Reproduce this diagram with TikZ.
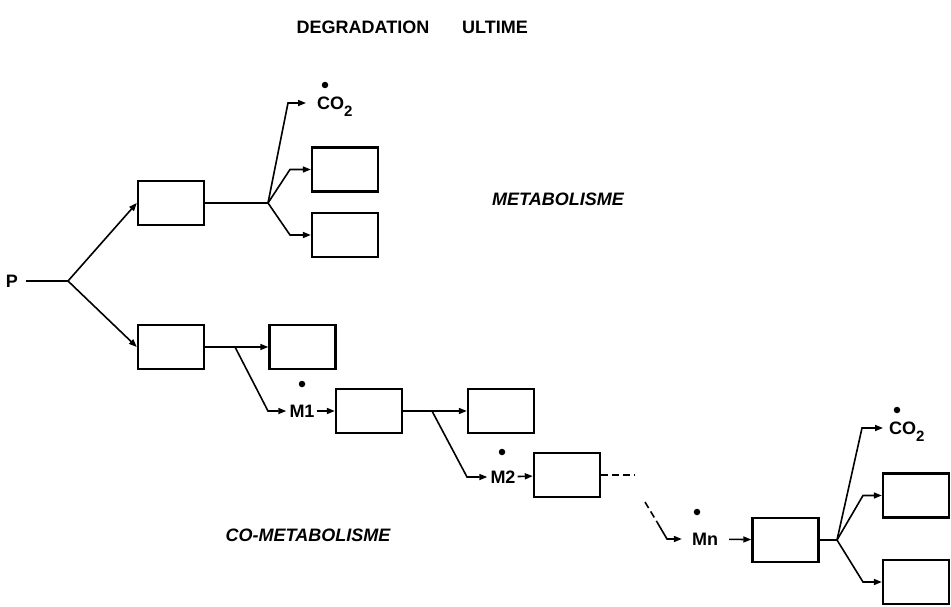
\documentclass[tikz,border=0pt]{standalone}
\usepackage{fontspec}
\setmainfont{Liberation Sans}
\usetikzlibrary{arrows.meta, positioning, calc}

\newcommand{\subtwo}{\smash{\raisebox{-7pt}{\fontsize{15}{15}\selectfont 2}}}

\begin{document}
\begin{tikzpicture}[
    x=1pt, y=-1pt,
    font=\fontsize{18}{20}\selectfont\bfseries,
    cell/.style={draw, line width=2.4pt, minimum width=66pt, minimum height=44pt, inner sep=0pt},
    lbl/.style={inner sep=0pt},
    slant/.style={inner sep=0pt, font=\fontsize{18}{20}\selectfont\bfseries\itshape},
    dot/.style={fill, circle, inner sep=0pt, minimum size=6.5pt},
    ln/.style={line width=1.6pt},
    arr/.style={line width=1.6pt, -{Triangle[length=8pt, width=6pt]}},
    dsh/.style={line width=1.6pt, dash pattern=on 7pt off 4pt}
]
\useasboundingbox (0,0) rectangle (951,607);

\node[lbl] (tdeg) at (363,27) {DEGRADATION};
\node[lbl, anchor=west] (tult) at (462,27) {ULTIME};
\node[slant] (tmet) at (558,199) {METABOLISME};
\node[slant] (tcomet) at (308,535) {CO-METABOLISME};

\node[lbl] (pp) at (12,281) {P};
\coordinate (jp) at (68,281);

% metabolisme
\node[cell] (a1) at (171,203) {};
\coordinate (ja1) at (268,203);
\coordinate (ka1) at (288,103);
\node[lbl, anchor=west] (co2a) at (317,103) {CO\subtwo};
\node[dot] at (325,85) {};
\node[cell] (b1) at (345,169.5) {};
\node[cell] (b2) at (345,235) {};
\coordinate (kb1) at (290,169.5);
\coordinate (kb2) at (290,235);

% co-metabolisme
\node[cell] (a2) at (171,347) {};
\coordinate (ja2) at (235,347);
\node[cell] (c1) at (302.5,347) {};
\coordinate (km1) at (268,411);
\node[lbl] (m1) at (302,411) {M1};
\node[dot] at (302,384) {};
\node[cell] (d1) at (369,411) {};
\coordinate (jd1) at (432,411);
\node[cell] (e1) at (501,411) {};
\coordinate (km2) at (467,477);
\node[lbl] (m2) at (503,477) {M2};
\node[dot] at (502,452) {};
\node[cell] (f1) at (567,475) {};
\coordinate (df1) at (635,475);
\coordinate (dq1) at (645,502);
\coordinate (dq2) at (657,522);
\coordinate (kmn) at (667,539);
\node[lbl] (mn) at (705,539) {Mn};
\node[dot] at (697,512) {};
\node[cell] (g1) at (785.5,540) {};
\coordinate (jg1) at (837,540);
\coordinate (kg1) at (862,428);
\node[lbl, anchor=west] (co2b) at (889,428) {CO\subtwo};
\node[dot] at (897,410) {};
\node[cell] (h1) at (916,495.5) {};
\node[cell] (h2) at (916,582) {};
\coordinate (kh1) at (863,495.5);
\coordinate (kh2) at (863,582);

\draw[ln, shorten <=8pt] (pp) -- (jp);
\draw[arr] (jp) -- (a1.west);
\draw[arr] (jp) -- (a2.west);
\draw[ln] (a1) -- (ja1);
\draw[arr, shorten >=11pt] (ja1) -- (ka1) -- (ka1 -| co2a.west);
\draw[arr] (ja1) -- (kb1) -- (b1.west);
\draw[arr] (ja1) -- (kb2) -- (b2.west);
\draw[ln] (a2) -- (ja2);
\draw[arr] (ja2) -- (c1.west);
\draw[arr, shorten >=3pt] (ja2) -- (km1) -- (m1.west);
\draw[arr, shorten <=2pt] (m1) -- (d1);
\draw[ln] (d1) -- (jd1);
\draw[arr] (jd1) -- (e1.west);
\draw[arr, shorten >=3pt] (jd1) -- (km2) -- (m2.west);
\draw[arr, shorten <=2pt] (m2) -- (f1);
\draw[dsh] (f1) -- (df1);
\draw[dsh] (dq1) -- (dq2);
\draw[arr, shorten >=10pt] (dq2) -- (kmn) -- (mn.west);
\draw[arr, shorten <=11pt] (mn) -- (g1);
\draw[ln] (g1) -- (jg1);
\draw[arr, shorten >=6pt] (jg1) -- (kg1) -- (kg1 -| co2b.west);
\draw[arr] (jg1) -- (kh1) -- (h1.west);
\draw[arr] (jg1) -- (kh2) -- (h2.west);

\end{tikzpicture}
\end{document}
